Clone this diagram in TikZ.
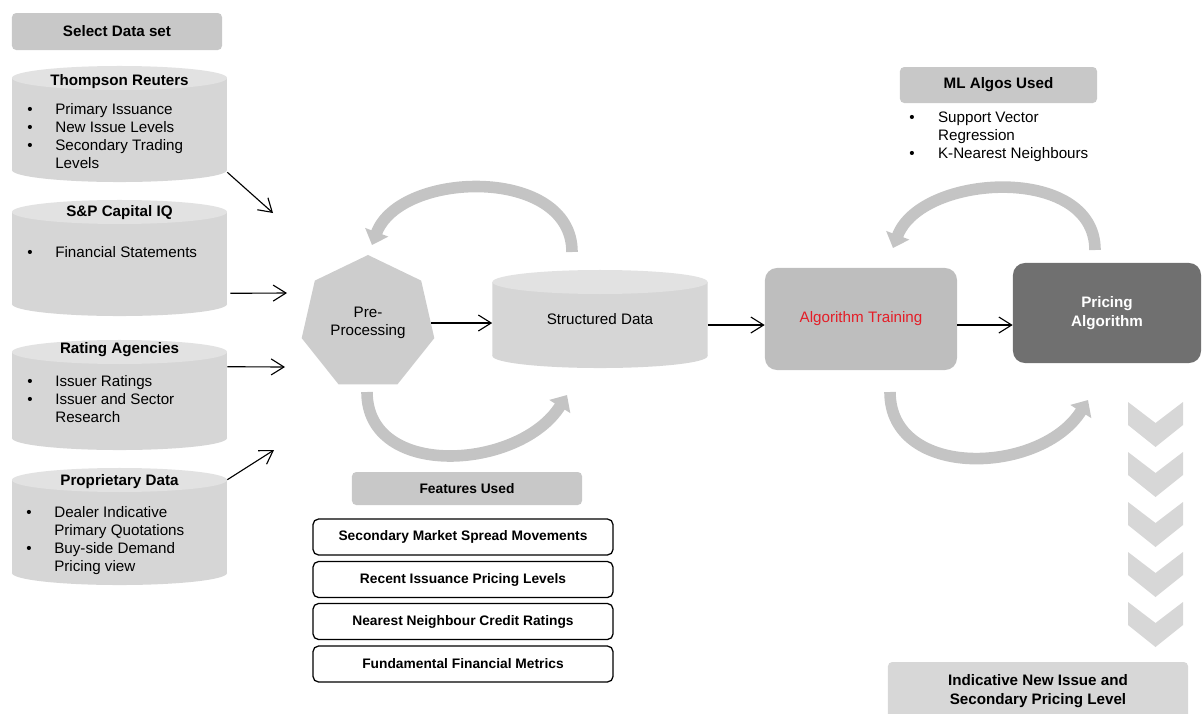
\documentclass[tikz,border=0pt]{standalone}
\usepackage{fontspec}
\setmainfont{Liberation Sans}
\usetikzlibrary{arrows.meta,shapes.geometric,positioning}

\definecolor{hdrgray}{RGB}{200,200,200}
\definecolor{cylside}{RGB}{214,214,214}
\definecolor{cyltop}{RGB}{226,226,226}
\definecolor{heptgray}{RGB}{205,205,205}
\definecolor{traingray}{RGB}{190,190,190}
\definecolor{pricegray}{RGB}{112,112,112}
\definecolor{arcgray}{RGB}{196,196,196}
\definecolor{chevgray}{RGB}{215,215,215}
\definecolor{trainred}{RGB}{228,30,40}

\newcommand{\bfont}{\fontsize{10.8}{13}\selectfont}
\newcommand{\sfont}{\fontsize{9.8}{12}\selectfont}

\begin{document}
\begin{tikzpicture}[x=0.025cm, y=-0.025cm,
    header/.style={rectangle, fill=hdrgray, rounded corners=3pt, font=\bfont\bfseries, inner sep=0pt},
    cyl/.style={rectangle, fill=white, minimum width=5.375cm, inner sep=0pt, font=\bfont, path picture={
        \fill[cylside] ([yshift=-3mm]path picture bounding box.north west) rectangle ([yshift=3mm]path picture bounding box.south east);
        \fill[cylside] ([yshift=3mm]path picture bounding box.south) ellipse [x radius=2.6875cm, y radius=3mm];
        \fill[cyltop] ([yshift=-3mm]path picture bounding box.north) ellipse [x radius=2.6875cm, y radius=3mm];
    }},
    title/.style={font=\bfont\bfseries, inner sep=0pt},
    items/.style={font=\bfont, inner sep=0pt, anchor=north west, align=left},
    stage/.style={rectangle, rounded corners=0.3cm, inner sep=0pt, font=\bfont, align=center},
    feature/.style={rectangle, draw, line width=0.9pt, rounded corners=4pt, minimum width=7.5cm, minimum height=0.9cm, font=\sfont\bfseries, inner sep=0pt},
    arr/.style={-{Straight Barb[length=3.2mm,width=4mm]}, line width=0.8pt},
    roundarr/.style={draw=arcgray, line width=0.29cm, -{Triangle[width=0.6cm,length=0.34cm]}}
]
\path[use as bounding box, clip] (0,0) rectangle (1203,713);

% Data sources
\node[header, minimum width=5.25cm, minimum height=0.925cm] (sel) at (117,31.5) {Select Data set};

\node[cyl, minimum height=2.9cm] (tr) at (119.5,124) {};
\node[title] (trT) at (119.5,82) {Thompson Reuters};
\node[items] (trL) at (27,101) {\begin{tabular}{@{}p{0.7cm}@{}l@{}}
    \textbullet & Primary Issuance\\ \textbullet & New Issue Levels\\ \textbullet & Secondary Trading\\ & Levels\end{tabular}};

\node[cyl, minimum height=2.9cm] (sp) at (119.5,258) {};
\node[title] (spT) at (119.5,213) {S\&P Capital IQ};
\node[items] (spL) at (27,244) {\begin{tabular}{@{}p{0.7cm}@{}l@{}}
    \textbullet & Financial Statements\end{tabular}};

\node[cyl, minimum height=2.75cm] (ra) at (119.5,395) {};
\node[title] (raT) at (119.5,350) {Rating Agencies};
\node[items] (raL) at (27,373) {\begin{tabular}{@{}p{0.7cm}@{}l@{}}
    \textbullet & Issuer Ratings\\ \textbullet & Issuer and Sector\\ & Research\end{tabular}};

\node[cyl, minimum height=2.925cm] (pd) at (119.5,526.5) {};
\node[title] (pdT) at (119.5,482) {Proprietary Data};
\node[items] (pdL) at (26,504) {\begin{tabular}{@{}p{0.7cm}@{}l@{}}
    \textbullet & Dealer Indicative\\ & Primary Quotations\\ \textbullet & Buy-side Demand\\ & Pricing view\end{tabular}};

% Source arrows
\coordinate (in1) at (273,213);
\coordinate (in2) at (287,293);
\coordinate (in3) at (285,367);
\coordinate (in4) at (274,450);
\draw[arr] ([yshift=2.5mm]tr.south east) -- (in1);
\draw[arr] ([xshift=0.75mm,yshift=5.75mm]sp.south east) -- (in2);
\draw[arr] ([yshift=-6.75mm]ra.north east) -- (in3);
\draw[arr] ([yshift=-3mm]pd.north east) -- (in4);

% Processing
\node[regular polygon, regular polygon sides=7, minimum size=3.4cm, fill=heptgray, inner sep=0pt, font=\bfont, align=center] (pre) at (368,323) {Pre-\\Processing};
\node[cyl, minimum height=2.45cm] (sd) at (600,319) {\raisebox{-2mm}{Structured Data}};

\coordinate (p1) at (572,252);
\coordinate (p2) at (372,245);
\coordinate (p3) at (367,392);
\coordinate (p4) at (567,395);
\draw[roundarr] (p1) .. controls +(0,-86) and +(28,-75) .. (p2);
\draw[roundarr] (p3) .. controls +(0,88) and +(-47,75) .. (p4);

% Features
\node[header, font=\sfont\bfseries, minimum width=5.75cm, minimum height=0.825cm] (fu) at (467,488.5) {Features Used};
\node[feature] (f1) at (463,537) {Secondary Market Spread Movements};
\node[feature] (f2) at (463,579.5) {Recent Issuance Pricing Levels};
\node[feature] (f3) at (463,621.5) {Nearest Neighbour Credit Ratings};
\node[feature] (f4) at (463,664) {Fundamental Financial Metrics};

% Training
\node[stage, fill=traingray, minimum width=4.8cm, minimum height=2.55cm, text=trainred] (at) at (861,319) {Algorithm Training};
\node[stage, fill=pricegray, minimum width=4.7cm, minimum height=2.5cm, text=white, font=\bfont\bfseries] (pa) at (1107,313) {Pricing\\Algorithm};

\draw[arr] (pre.east) -- (pre.east -| sd.west);
\draw[arr] ([yshift=-1.5mm]sd.east) -- ([yshift=-1.5mm]sd.east -| at.west);
\draw[arr] ([yshift=-1.5mm]at.east) -- ([yshift=-1.5mm]at.east -| pa.west);

\coordinate (q1) at (1095,250);
\coordinate (q2) at (893,248);
\coordinate (q3) at (890,392);
\coordinate (q4) at (1088,400);
\draw[roundarr] (q1) .. controls +(0,-86) and +(28,-75) .. (q2);
\draw[roundarr] (q3) .. controls +(0,88) and +(-47,75) .. (q4);

% ML algorithms
\node[header, minimum width=4.925cm, minimum height=0.9cm] (ml) at (998.5,85) {ML Algos Used};
\node[items] (mlL) at (909,109) {\begin{tabular}{@{}p{0.72cm}@{}l@{}}
    \textbullet & Support Vector\\ & Regression\\ \textbullet & K-Nearest Neighbours\end{tabular}};

% Output
\foreach \y in {402,452,502,552,602}
    \fill[chevgray] (1128,\y) -- (1155.5,\y+21) -- (1183,\y) -- (1183,\y+23) -- (1155.5,\y+45) -- (1128,\y+23) -- cycle;
\node[header, fill=chevgray, minimum width=7.5cm, minimum height=1.45cm, align=center] (res) at (1038,691) {Indicative New Issue and\\Secondary Pricing Level};

\end{tikzpicture}
\end{document}
